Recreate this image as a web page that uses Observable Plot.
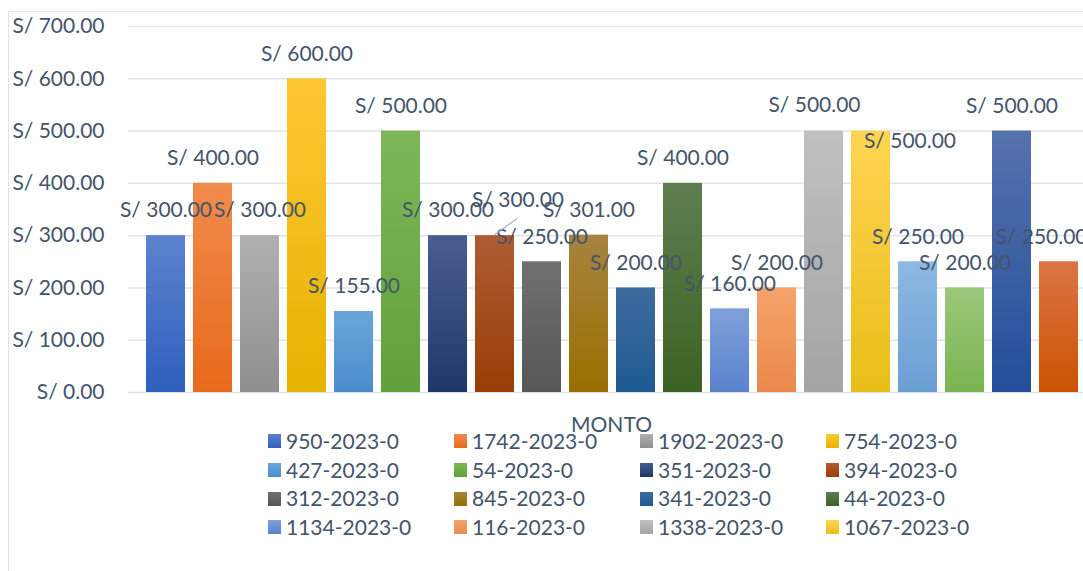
<!DOCTYPE html>
<html>
<head>
<meta charset="utf-8">
<script src="https://cdn.jsdelivr.net/npm/d3@7"></script>
<script src="https://cdn.jsdelivr.net/npm/@observablehq/plot@0.6"></script>
<style>
html, body { margin: 0; padding: 0; background: #fff; overflow: hidden; width: 1083px; height: 571px; }
#wrap { position: relative; width: 1083px; height: 571px; font-family: Lato, "Open Sans", sans-serif; color: #44546A; overflow: hidden; }
#frame { position: absolute; left: 8px; top: 11px; width: 1100px; height: 600px; border-left: 1.5px solid #dfe3ea; border-top: 1.5px solid #dfe3ea; }
#chart { position: absolute; left: 0; top: 0; }
#legend { position: absolute; left: 268px; top: 427px; display: grid; grid-template-columns: repeat(4, 186px); font-size: 21px; line-height: 28.67px; }
.item { display: flex; align-items: center; white-space: nowrap; }
.sw { width: 13px; height: 14px; margin-right: 5px; flex: none; }
</style>
</head>
<body>
<div id="wrap">
  <div id="frame"></div>
  <div id="chart"></div>
  <div id="legend"></div>
</div>
<script>
// ---- data ----
const categoryLabel = "MONTO";
const legendNames = [
  "950-2023-0", "1742-2023-0", "1902-2023-0", "754-2023-0",
  "427-2023-0", "54-2023-0", "351-2023-0", "394-2023-0",
  "312-2023-0", "845-2023-0", "341-2023-0", "44-2023-0",
  "1134-2023-0", "116-2023-0", "1338-2023-0", "1067-2023-0"
];
const values = [300, 400, 300, 600, 155, 500, 300, 300, 250, 301, 200, 400, 160, 200, 500, 500, 250, 200, 500, 250];
const yTicks = [0, 100, 200, 300, 400, 500, 600, 700];

// ---- styles ----
const gradTop = ["#5b83ce", "#f08b4c", "#b0b0b0", "#ffc733", "#6aa6dc", "#7db858", "#4b5f8f", "#ae5c34", "#707070", "#a68440", "#3f6b9e", "#5e7e50", "#7fa0da", "#f6a36b", "#c0c0c0", "#ffd452", "#8db9e3", "#9bc87b", "#5672ae", "#dc7446"];
const gradBot = ["#2f5fbd", "#e8691b", "#8f8f8f", "#e6b200", "#4a8ccb", "#62a03a", "#1f3868", "#9a3d06", "#575757", "#9a6f00", "#1d5a92", "#3b6323", "#5a82cc", "#ea894a", "#a4a4a4", "#e8be18", "#6a9fd2", "#7ab450", "#234e9a", "#cc5200"];
const textColor = "#44546A";
const gridColor = "#dfe3ea";
// label nudges (pixels) for labels Excel moved from default position
const labelNudge = {7: [23, -35], 14: [-9.5, -26], 15: [39, 10], 19: [-17.5, -25]};

const fmt = v => "S/ " + v.toFixed(2);
const idx = d3.range(values.length);
const normalIdx = idx.filter(i => !(i in labelNudge));

const marks = [
  Plot.ruleY(yTicks, {stroke: gridColor, strokeWidth: 1.5}),
  Plot.axisY({ticks: yTicks, tickFormat: fmt, tickSize: 0, tickPadding: 24, label: null, fontSize: 21}),
  Plot.barY(idx, {x: i => i, y: i => values[i], fill: i => `url(#g${i})`}),
  Plot.text(normalIdx, {x: i => i, y: i => values[i], text: i => fmt(values[i]), dy: -25, lineAnchor: "middle", fontSize: 21, fill: textColor}),
  // leader line for the moved label of bar 8
  (index, scales) => {
    const sx = scales.x, sy = scales.y;
    const bw = typeof sx.bandwidth === "function" ? sx.bandwidth() : 39;
    const i = 7;
    const x0 = sx(i) + bw / 2, y0 = sy(values[i]);
    const g = d3.create("svg:line")
      .attr("x1", x0).attr("y1", y0 - 0.5)
      .attr("x2", x0 + labelNudge[i][0]).attr("y2", y0 + labelNudge[i][1] + 18)
      .attr("stroke", "#a9b4c2").attr("stroke-width", 1.2);
    return g.node();
  },
  ...Object.entries(labelNudge).map(([k, [dx, dy]]) =>
    Plot.text([+k], {x: i => i, y: i => values[i], text: i => fmt(values[i]), dx, dy, lineAnchor: "middle", fontSize: 21, fill: textColor})
  ),
  Plot.text([categoryLabel], {frameAnchor: "bottom", text: d => d, dy: 33, dx: 5.5, lineAnchor: "middle", fontSize: 21, fill: textColor})
];

const plot = Plot.plot({
  width: 1083,
  height: 440,
  marginLeft: 128,
  marginRight: 0,
  marginTop: 26,
  marginBottom: 48,
  style: {fontFamily: "Lato, 'Open Sans', sans-serif", fontSize: "21px", color: textColor, background: "transparent", overflow: "visible"},
  x: {type: "band", domain: idx, range: [146, 1078], paddingInner: 8 / 47, paddingOuter: 0, axis: null},
  y: {domain: [0, 700], axis: null},
  color: {type: "identity"},
  marks
});

// gradient definitions
const svgNS = "http://www.w3.org/2000/svg";
const defs = document.createElementNS(svgNS, "defs");
idx.forEach(i => {
  const lg = document.createElementNS(svgNS, "linearGradient");
  lg.setAttribute("id", "g" + i);
  lg.setAttribute("x1", "0"); lg.setAttribute("y1", "0");
  lg.setAttribute("x2", "0"); lg.setAttribute("y2", "1");
  [[0, gradTop[i]], [1, gradBot[i]]].forEach(([o, c]) => {
    const s = document.createElementNS(svgNS, "stop");
    s.setAttribute("offset", o);
    s.setAttribute("stop-color", c);
    lg.appendChild(s);
  });
  defs.appendChild(lg);
});
plot.insertBefore(defs, plot.firstChild);
document.getElementById("chart").appendChild(plot);

// legend
const legend = d3.select("#legend");
legendNames.forEach((name, i) => {
  const item = legend.append("div").attr("class", "item");
  item.append("span").attr("class", "sw")
    .style("background", `linear-gradient(to bottom, ${gradTop[i]}, ${gradBot[i]})`);
  item.append("span").text(name);
});
</script>
</body>
</html>
